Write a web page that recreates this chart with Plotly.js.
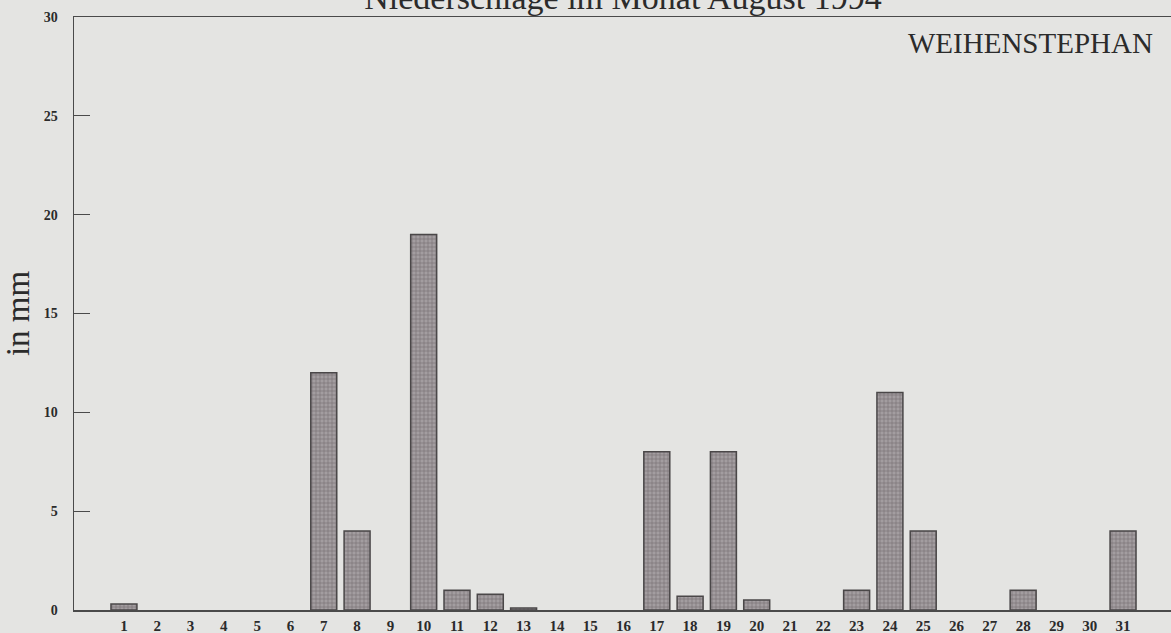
<!DOCTYPE html>
<html>
<head>
<meta charset="utf-8">
<script src="https://cdn.plot.ly/plotly-3.0.1.min.js"></script>
<style>
html,body{margin:0;padding:0;background:#e4e4e2;}
#chart{width:1171px;height:633px;}
</style>
</head>
<body>
<div id="chart"></div>
<script>
const days = [1,2,3,4,5,6,7,8,9,10,11,12,13,14,15,16,17,18,19,20,21,22,23,24,25,26,27,28,29,30,31];
const precipitation = [0.3,0,0,0,0,0,12.0,4.0,0,19.0,1.0,0.8,0.1,0,0,0,8.0,0.7,8.0,0.5,0,0,1.0,11.0,4.0,0,0,1.0,0,0,4.0];
const yTicks = [0,5,10,15,20,25,30];
const chartTitle = "Niederschläge im Monat August 1994";
const yLabel = "in mm";
const station = "WEIHENSTEPHAN";

const serif = "'Liberation Serif', 'Times New Roman', serif";

const trace = {
  type: 'bar',
  x: days,
  y: precipitation,
  marker: {
    color: '#9a9497',
    pattern: {shape: '+', fgcolor: '#777174', bgcolor: '#a39da0', size: 4, solidity: 0.3},
    line: {color: '#4a4748', width: precipitation.map(v => v > 0 ? 1.5 : 0)}
  },
  hoverinfo: 'x+y'
};

const layout = {
  width: 1171,
  height: 633,
  margin: {l: 74, r: 0, t: 17, b: 23, pad: 0},
  paper_bgcolor: '#e4e4e2',
  plot_bgcolor: '#e4e4e2',
  bargap: 0.22,
  showlegend: false,
  title: {
    text: chartTitle,
    font: {family: serif, size: 34, color: '#2b2b2b'},
    x: 0.532, xanchor: 'center', xref: 'container',
    y: 1 - 9/633, yanchor: 'bottom', yref: 'container',
    automargin: false
  },
  xaxis: {
    range: [-0.5, 32.44],
    tickmode: 'array',
    tickvals: days,
    ticktext: days.map(String),
    ticks: '',
    showgrid: false,
    zeroline: false,
    showline: true,
    mirror: true,
    linecolor: '#4a4a4a',
    linewidth: 1.5,
    tickfont: {family: serif, size: 15, color: '#2b2b2b', weight: 'bold'},
    ticklabelstandoff: 1,
    fixedrange: true
  },
  yaxis: {
    range: [0, 30],
    tickmode: 'array',
    tickvals: yTicks,
    ticktext: yTicks.map(String),
    ticks: 'inside',
    ticklen: 16,
    tickwidth: 1.2,
    tickcolor: '#4a4a4a',
    showgrid: false,
    zeroline: false,
    showline: true,
    linecolor: '#4a4a4a',
    linewidth: 1.5,
    tickfont: {family: serif, size: 14, color: '#2b2b2b', weight: 'bold'},
    ticklabelstandoff: 12,
    title: {
      text: yLabel,
      font: {family: serif, size: 33, color: '#2b2b2b'},
      standoff: 6
    },
    automargin: false,
    fixedrange: true
  },
  annotations: [{
    text: station,
    xref: 'paper', yref: 'paper',
    x: 0.9854, y: (610 - 43) / 593,
    xanchor: 'right', yanchor: 'middle',
    showarrow: false,
    font: {family: serif, size: 29, color: '#2b2b2b'}
  }]
};

Plotly.newPlot('chart', [trace], layout, {displayModeBar: false, staticPlot: true});
</script>
</body>
</html>
